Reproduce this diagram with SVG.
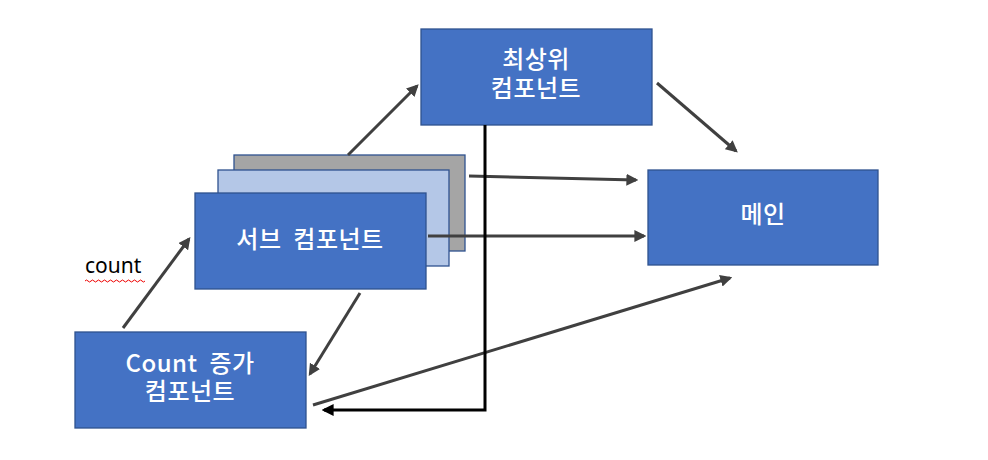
<svg xmlns="http://www.w3.org/2000/svg" width="988" height="460" viewBox="0 0 988 460">
<defs>
<style>
.box{fill:#4472C4;stroke:#2F528F;stroke-width:1.3}
.t{fill:#fff;font-family:"Noto Sans CJK KR","Noto Sans",sans-serif;font-size:24px;font-weight:500;letter-spacing:0.5px;word-spacing:6px;text-anchor:middle}
.c{stroke:#404040;stroke-width:3;fill:none;marker-end:url(#ah)}
.k{stroke:#000;stroke-width:3;fill:none;marker-end:url(#ak)}
</style>
<marker id="ah" viewBox="0 0 10 10" refX="8" refY="5" markerWidth="4" markerHeight="4" orient="auto"><path d="M0,0 L10,5 L0,10 z" fill="#404040"/></marker>
<marker id="ak" viewBox="0 0 10 10" refX="8" refY="5" markerWidth="4" markerHeight="4" orient="auto"><path d="M0,0 L10,5 L0,10 z" fill="#000"/></marker>
</defs>
<rect width="988" height="460" fill="#fff"/>
<g id="top"><rect class="box" x="421" y="29" width="231" height="96"/><text class="t" x="536" y="68">최상위</text><text class="t" x="536" y="97">컴포넌트</text></g>
<g id="main"><rect class="box" x="648" y="170" width="230" height="95"/><text class="t" x="763" y="223">메인</text></g>
<g id="sub-stack">
<rect x="234" y="155" width="231" height="96" fill="#A5A5A5" stroke="#2F528F" stroke-width="1.3"/>
<rect x="218" y="170" width="231" height="96" fill="#B4C7E7" stroke="#2F528F" stroke-width="1.3"/>
</g>
<g id="sub"><rect class="box" x="195" y="193" width="231" height="96"/><text class="t" x="310" y="248">서브 컴포넌트</text></g>
<g id="count"><rect class="box" x="75" y="332" width="231" height="96"/><text class="t" x="190" y="372">Count 증가</text><text class="t" x="190" y="400">컴포넌트</text></g>
<g id="label"><text x="85" y="273" font-family="Noto Sans, sans-serif" font-size="21" fill="#000">count</text><path d="M85,281 q1.5,-2 3,0 t3,0 t3,0 t3,0 t3,0 t3,0 t3,0 t3,0 t3,0 t3,0 t3,0 t3,0 t3,0 t3,0 t3,0 t3,0 t3,0 t3,0 t3,0 t3,0" stroke="#E00" stroke-width="1" fill="none"/></g>
<g id="connectors">
<line class="c" x1="123" y1="328" x2="189" y2="239"/>
<line class="c" x1="348" y1="155" x2="417" y2="86"/>
<line class="c" x1="657" y1="83" x2="736" y2="151"/>
<line class="c" x1="469" y1="176" x2="636" y2="180"/>
<line class="c" x1="428" y1="236" x2="644" y2="236"/>
<line class="c" x1="360" y1="293" x2="310" y2="374"/>
<line class="c" x1="313" y1="405" x2="730" y2="278"/>
<polyline class="k" points="485,125 485,410 324,410"/>
</g>
</svg>
